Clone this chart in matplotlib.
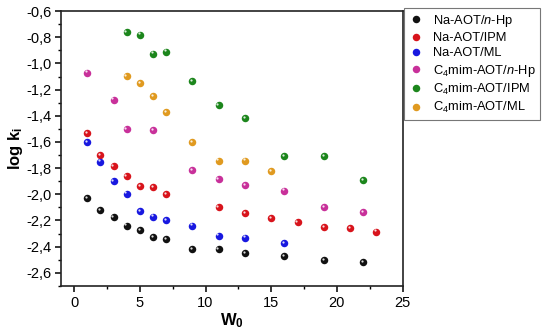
import matplotlib
matplotlib.use("Agg")
import matplotlib.pyplot as plt
from matplotlib.ticker import MultipleLocator, FuncFormatter
from matplotlib.transforms import offset_copy

plt.rcParams["font.family"] = ["Liberation Sans", "DejaVu Sans"]
plt.rcParams["mathtext.fontset"] = "custom"
plt.rcParams["mathtext.rm"] = "Liberation Sans"
plt.rcParams["mathtext.it"] = "Liberation Sans:italic"
plt.rcParams["mathtext.bf"] = "Liberation Sans:bold"

# data
w_na_hp = [1, 2, 3, 4, 5, 6, 7, 9, 11, 13, 16, 19, 22]
k_na_hp = [-2.03, -2.12, -2.175, -2.24, -2.275, -2.325, -2.345, -2.42, -2.42, -2.45, -2.475, -2.505, -2.52]

w_na_ipm = [1, 2, 3, 4, 5, 6, 7, 11, 13, 15, 17, 19, 21, 23]
k_na_ipm = [-1.53, -1.70, -1.785, -1.86, -1.94, -1.945, -2.0, -2.10, -2.145, -2.18, -2.215, -2.25, -2.26, -2.285]

w_na_ml = [1, 2, 3, 4, 5, 6, 7, 9, 11, 13, 16]
k_na_ml = [-1.60, -1.75, -1.90, -1.995, -2.13, -2.17, -2.195, -2.24, -2.315, -2.33, -2.375]

w_c4_hp = [1, 3, 4, 6, 9, 11, 13, 16, 19, 22]
k_c4_hp = [-1.07, -1.277, -1.50, -1.51, -1.8175, -1.885, -1.93, -1.9725, -2.10, -2.1375]

w_c4_ipm = [4, 5, 6, 7, 9, 11, 13, 16, 19, 22]
k_c4_ipm = [-0.758, -0.779, -0.925, -0.909, -1.135, -1.32, -1.42, -1.71, -1.71, -1.8925]

w_c4_ml = [4, 5, 6, 7, 9, 11, 13, 15]
k_c4_ml = [-1.097, -1.15, -1.25, -1.372, -1.60, -1.743, -1.743, -1.825]

series = [
    ("Na-AOT/$\\mathit{n}$-Hp", w_na_hp, k_na_hp, "#111111"),
    ("Na-AOT/IPM", w_na_ipm, k_na_ipm, "#d8141c"),
    ("Na-AOT/ML", w_na_ml, k_na_ml, "#1818e0"),
    ("C$_4$mim-AOT/$\\mathit{n}$-Hp", w_c4_hp, k_c4_hp, "#c8309a"),
    ("C$_4$mim-AOT/IPM", w_c4_ipm, k_c4_ipm, "#1c861c"),
    ("C$_4$mim-AOT/ML", w_c4_ml, k_c4_ml, "#e09a20"),
]

fig = plt.figure(figsize=(5.5, 3.36), dpi=100)
ax = fig.add_axes([0.111, 0.149, 0.621, 0.818])

hl = offset_copy(ax.transData, fig=fig, x=-0.9, y=0.9, units="points")
handles = []
for label, w, k, col in series:
    h, = ax.plot(w, k, "o", color=col, markersize=5.4, markeredgewidth=0, label=label)
    ax.plot(w, k, "o", color="white", alpha=0.85, markersize=1.6, markeredgewidth=0, transform=hl)
    handles.append(h)

ax.set_xlim(-1, 25)
ax.set_ylim(-2.7, -0.6)
ax.xaxis.set_major_locator(MultipleLocator(5))
ax.xaxis.set_minor_locator(MultipleLocator(2.5))
ax.yaxis.set_major_locator(MultipleLocator(0.2))
ax.yaxis.set_minor_locator(MultipleLocator(0.1))
ax.yaxis.set_major_formatter(FuncFormatter(lambda v, p: f"{v:.1f}".replace(".", ",")))
ax.xaxis.set_major_formatter(FuncFormatter(lambda v, p: f"{v:.0f}"))
ax.tick_params(which="major", direction="out", length=4, width=1.1, labelsize=10.5, top=False, right=False, pad=3)
ax.tick_params(which="minor", direction="out", length=2.5, width=1.0, top=False, right=False)
for s in ax.spines.values():
    s.set_linewidth(1.2)
    s.set_color("#222222")

ax.set_xlabel("W$_\\mathbf{0}$", fontsize=12, fontweight="bold", labelpad=1)
ax.set_ylabel("log k$_\\mathbf{i}$", fontsize=12, fontweight="bold", labelpad=1)

leg = fig.legend(handles=handles, loc="upper left", bbox_to_anchor=(0.734, 0.975),
                 fontsize=9.3, frameon=True, fancybox=False, edgecolor="#555555",
                 handletextpad=0.7, labelspacing=0.25, borderpad=0.35, handlelength=1.2,
                 borderaxespad=0, markerscale=1.0)
leg.get_frame().set_linewidth(0.8)

fig.savefig("out.png", dpi=100)
